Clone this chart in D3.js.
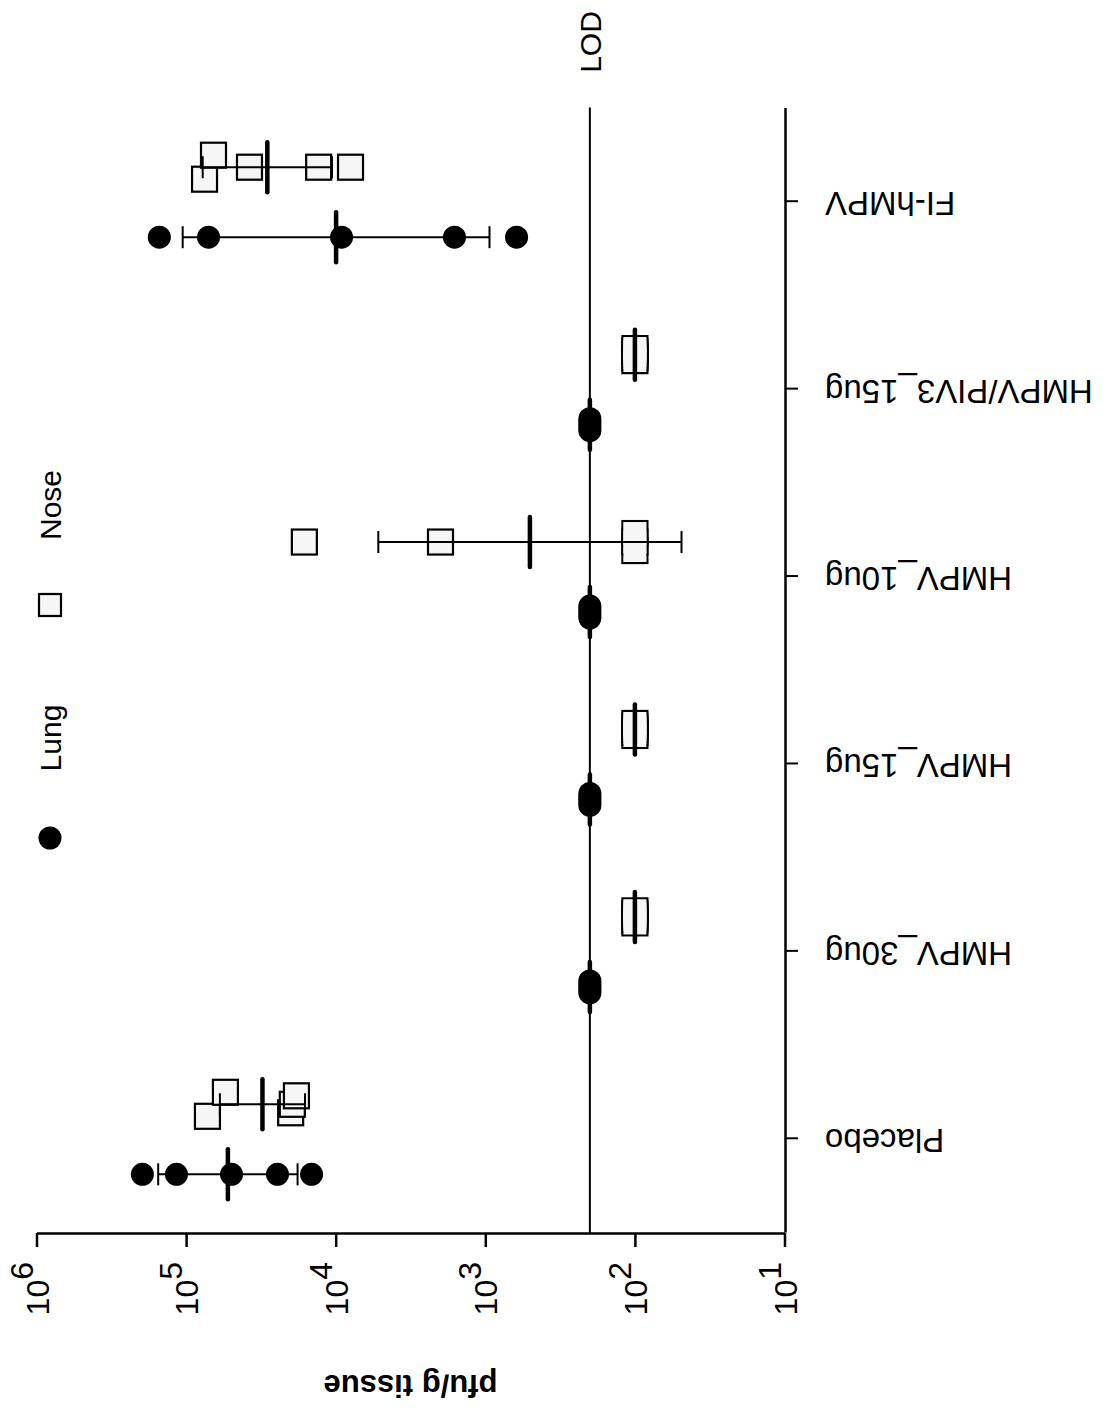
<!DOCTYPE html>
<html>
<head>
<meta charset="utf-8">
<script src="https://cdn.jsdelivr.net/npm/d3@7"></script>
<style>
  html, body { margin: 0; padding: 0; background: #fff; }
  svg { display: block; }
  text { font-family: "Liberation Sans", Arial, sans-serif; fill: #000; }
</style>
</head>
<body>
<svg id="chart" width="1110" height="1417"></svg>
<script>
// ---------------- data ----------------
const categories = ["Placebo", "HMPV_30ug", "HMPV_15ug", "HMPV_10ug", "HMPV/PIV3_15ug", "FI-hMPV"];
const lungValues = [
  [1.96e5, 1.16e5, 4.97e4, 2.45e4, 1.45e4],
  [200, 200, 200, 200, 200],
  [200, 200, 200, 200, 200],
  [200, 200, 200, 200, 200],
  [200, 200, 200, 200, 200],
  [1.51e5, 7.08e4, 9140, 1607, 618]
];
const noseValues = [
  [7.2e4, 5.46e4, 2.0e4, 1.95e4, 1.83e4],
  [100, 100, 100, 100, 100],
  [100, 100, 100, 100, 100],
  [1.62e4, 1993, 100, 100, 100],
  [100, 100, 100, 100, 100],
  [7.53e4, 6.56e4, 3.77e4, 1.30e4, 7960]
];
const lodValue = 200;
const tickValues = [1e6, 1e5, 1e4, 1e3, 1e2, 1e1];
const seriesNames = ["Lung", "Nose"];
const axisTitle = "pfu/g tissue";
const lodLabel = "LOD";

// ---------------- layout ----------------
const svg = d3.select("#chart");
const axisY = 1233;     // value axis baseline (screen y)
const catX = 785;       // category axis (screen x)

// value axis is horizontal (chart rotated): log scale
const x = d3.scaleLog().domain([1e6, 10]).range([36.5, 784.5]);
// category axis is vertical
const y = d3.scaleBand().domain(categories).range([1232, 107.5]).padding(0);
const yc = c => y(c) + y.bandwidth() / 2;

const lungOffset = 36, noseOffset = -34;
const R = 11.5, SQ = 25, SW = 2.2;

// ---------------- axes ----------------
const xAxis = d3.axisBottom(x).tickValues(tickValues).tickFormat("").tickSize(14).tickSizeOuter(0);
const gx = svg.append("g").attr("transform", `translate(0,${axisY})`).call(xAxis);
gx.select(".domain").attr("stroke", "#000").attr("stroke-width", 2.5);
gx.selectAll(".tick line").attr("stroke", "#000").attr("stroke-width", 2.5);

const yAxis = d3.axisRight(y).tickFormat("").tickSize(13).tickSizeOuter(0);
const gy = svg.append("g").attr("transform", `translate(${catX},0)`).call(yAxis);
gy.select(".domain").attr("stroke", "#000").attr("stroke-width", 2.5);
gy.selectAll(".tick line").attr("stroke", "#000").attr("stroke-width", 2);

// value tick labels (rotated, reading bottom to top)
const tl = svg.append("g").selectAll("text").data(tickValues).join("text")
  .attr("transform", d => `translate(${x(d)},1262) rotate(-90)`)
  .attr("text-anchor", "end")
  .attr("y", 12)
  .attr("font-size", 32);
tl.append("tspan").text("10");
tl.append("tspan").attr("dy", -16).text(d => Math.round(Math.log10(d)));

// category labels (upside down)
svg.append("g").selectAll("text").data(categories).join("text")
  .attr("transform", d => `translate(825,${yc(d)}) rotate(180)`)
  .attr("text-anchor", "end")
  .attr("y", 9)
  .attr("font-size", 33)
  .text(d => d);

// axis title (upside down, bold)
svg.append("text")
  .attr("transform", `translate(${(x.range()[0] + x.range()[1]) / 2},1375) rotate(180)`)
  .attr("text-anchor", "middle")
  .attr("font-size", 31)
  .attr("font-weight", "bold")
  .text(axisTitle);

// LOD line + label
svg.append("line")
  .attr("x1", x(lodValue)).attr("x2", x(lodValue))
  .attr("y1", y.range()[1]).attr("y2", axisY)
  .attr("stroke", "#000").attr("stroke-width", 2);
svg.append("text")
  .attr("transform", `translate(${x(lodValue)},42) rotate(-90)`)
  .attr("text-anchor", "middle")
  .attr("y", 11)
  .attr("font-size", 30)
  .text(lodLabel);

// ---------------- points ----------------
// spread overlapping points perpendicular to the value axis
function layout(vals, diam) {
  const pts = vals.map(v => ({ v, px: x(v), off: 0, stacked: false }));
  const sorted = pts.slice().sort((a, b) => a.px - b.px);
  const clusters = [];
  let cur = [];
  sorted.forEach((p, i) => {
    if (i > 0 && p.px - sorted[i - 1].px >= diam) { clusters.push(cur); cur = []; }
    cur.push(p);
  });
  if (cur.length) clusters.push(cur);
  clusters.forEach(cl => {
    const n = cl.length;
    if (n < 2) return;
    const total = 24 / Math.sqrt(n - 1);
    const same = cl.every(p => p.v === cl[0].v);
    cl.forEach((p, i) => { p.off = total / 2 - i * total / (n - 1); p.stacked = same; });
  });
  return pts;
}

function stats(vals) {
  const logs = vals.map(Math.log10);
  const m = d3.mean(logs);
  const sd = d3.deviation(logs) || 0;
  return { mean: Math.pow(10, m), lo: Math.pow(10, m - sd), hi: Math.pow(10, m + sd) };
}

const gPts = svg.append("g");
const gErr = svg.append("g");

categories.forEach((cat, ci) => {
  const cyL = yc(cat) + lungOffset;
  const cyN = yc(cat) + noseOffset;

  // lung circles
  gPts.append("g").selectAll("circle").data(layout(lungValues[ci], 2 * R)).join("circle")
    .attr("cx", d => d.px).attr("cy", d => cyL + d.off).attr("r", R)
    .attr("fill", "#000");

  // nose squares
  const np = layout(noseValues[ci], SQ);
  const gs = gPts.append("g");
  gs.selectAll("rect.o").data(np).join("rect").attr("class", "o")
    .attr("x", d => d.px - SQ / 2).attr("y", d => cyN + d.off - SQ / 2)
    .attr("width", SQ).attr("height", SQ)
    .attr("fill", "#f6f6f6").attr("stroke", "#000").attr("stroke-width", SW);
  // identical stacked values read as one merged outline
  gs.selectAll("rect.i").data(np.filter(d => d.stacked)).join("rect").attr("class", "i")
    .attr("x", d => d.px - SQ / 2 + SW / 2).attr("y", d => cyN + d.off - SQ / 2 + SW / 2)
    .attr("width", SQ - SW).attr("height", SQ - SW)
    .attr("fill", "#f6f6f6");

  // mean +/- SD (geometric)
  [[lungValues[ci], cyL], [noseValues[ci], cyN]].forEach(([vals, cy]) => {
    const s = stats(vals);
    const g = gErr.append("g");
    g.append("line").attr("x1", x(s.lo)).attr("x2", x(s.hi)).attr("y1", cy).attr("y2", cy)
      .attr("stroke", "#000").attr("stroke-width", 2);
    [s.lo, s.hi].forEach(v => g.append("line")
      .attr("x1", x(v)).attr("x2", x(v)).attr("y1", cy - 11).attr("y2", cy + 11)
      .attr("stroke", "#000").attr("stroke-width", 2));
    g.append("line").attr("x1", x(s.mean)).attr("x2", x(s.mean))
      .attr("y1", cy - 25).attr("y2", cy + 25)
      .attr("stroke", "#000").attr("stroke-width", 4.5).attr("stroke-linecap", "round");
  });
});

// ---------------- legend ----------------
const leg = svg.append("g");
leg.append("circle").attr("cx", 50).attr("cy", 838).attr("r", R).attr("fill", "#000");
leg.append("text").attr("transform", "translate(50,738) rotate(-90)")
  .attr("text-anchor", "middle").attr("y", 11).attr("font-size", 30).text(seriesNames[0]);
leg.append("rect").attr("x", 50 - 11).attr("y", 605 - 11).attr("width", 22).attr("height", 22)
  .attr("fill", "#f6f6f6").attr("stroke", "#000").attr("stroke-width", SW);
leg.append("text").attr("transform", "translate(50,505) rotate(-90)")
  .attr("text-anchor", "middle").attr("y", 11).attr("font-size", 30).text(seriesNames[1]);
</script>
</body>
</html>
